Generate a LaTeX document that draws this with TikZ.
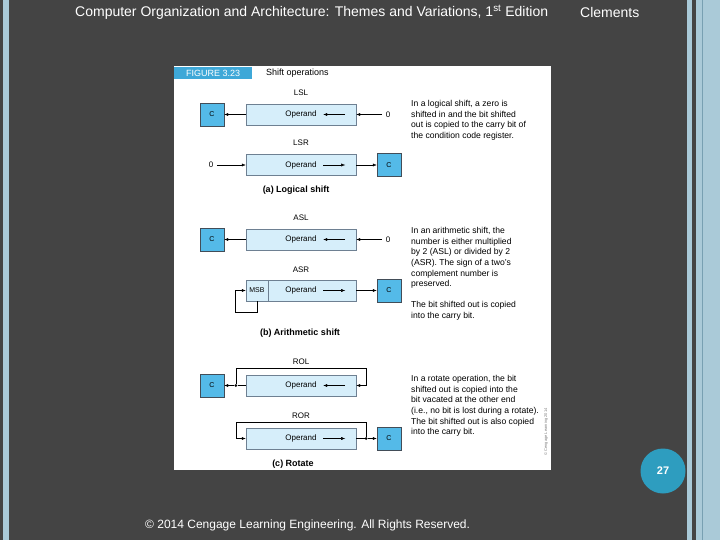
\documentclass[tikz,border=0pt]{standalone}
\usepackage{fontspec}
\setmainfont{Liberation Sans}
\usetikzlibrary{arrows.meta,positioning,calc}
\definecolor{slidegray}{RGB}{68,68,68}
\definecolor{stripblue}{RGB}{170,202,216}
\definecolor{stripdark}{RGB}{120,160,178}
\definecolor{opfill}{RGB}{214,238,250}
\definecolor{opdraw}{RGB}{110,128,146}
\definecolor{cfill}{RGB}{84,186,232}
\definecolor{headblue}{RGB}{62,168,216}
\definecolor{pageblue}{RGB}{46,157,191}

\tikzset{
  operand/.style={draw=opdraw, fill=opfill, minimum width=110pt, minimum height=21pt, inner sep=0pt, font=\fontsize{8}{9}\selectfont},
  carry/.style={draw=opdraw!60!black, fill=cfill, minimum width=24pt, minimum height=23pt, inner sep=0pt, font=\fontsize{7}{8}\selectfont},
  oplabel/.style={font=\fontsize{8}{9}\selectfont},
  caption/.style={font=\fontsize{9}{10}\selectfont\bfseries},
  note/.style={align=left, anchor=north west, inner sep=0pt, font=\fontsize{8.6}{10.7}\selectfont},
  arr/.style={-{Latex[length=4pt,width=3pt]}, thin},
  junction/.style={circle, fill=black, inner sep=0pt, minimum size=3pt}
}

\begin{document}
\begin{tikzpicture}[x=1pt, y=-1pt]
    \useasboundingbox (0,0) rectangle (720,540);

    % Slide background
    \fill[slidegray] (0,0) rectangle (720,540);
    \fill[stripblue] (3,0) rectangle (9,540);
    \fill[stripblue] (687,0) rectangle (692,540);
    \fill[stripblue] (696,0) rectangle (720,540);
    \draw[stripdark, thin] (702,0) -- (702,540);

    % Slide header and footer
    \node[text=white, anchor=west, inner sep=0pt, font=\fontsize{14}{15}\selectfont] (title) at (75,12)
        {Computer Organization and Architecture: Themes and Variations, 1\textsuperscript{st} Edition};
    \node[text=white, anchor=west, inner sep=0pt, font=\fontsize{14}{15}\selectfont] (author) at (580,12)
        {Clements};
    \node[text=white, anchor=west, inner sep=0pt, font=\fontsize{12}{14}\selectfont] (footer) at (145,525)
        {\textcopyright{} 2014 Cengage Learning Engineering. All Rights Reserved.};
    \node[circle, fill=pageblue, minimum size=45pt, text=white, font=\fontsize{11}{12}\selectfont\bfseries] (page) at (663,471) {27};

    % Figure panel
    \fill[white] (174,66) rectangle (551,470);
    \node[fill=headblue, text=white, anchor=north west, minimum width=78pt, minimum height=12pt, inner sep=0pt,
          font=\fontsize{9}{10}\selectfont] (fighead) at (174,67) {FIGURE 3.23};
    \node[anchor=west, inner sep=0pt, font=\fontsize{9}{10}\selectfont] (figtitle) at (266,73) {Shift operations};

    % (a) Logical shift
    \node[oplabel] (lsllab) at (301,93) {LSL};
    \node[operand] (lsl) at (301,114.5) {Operand};
    \node[carry] (lslc) at (212,114.5) {C};
    \node[oplabel] (lslz) at (388,114.5) {0};
    \draw[arr] (lslz) -- (lsl.east);
    \draw[arr] (lsl.west) -- (lslc.east);
    \draw[arr] ([xshift=-11pt]lsl.east) -- ([xshift=-33pt]lsl.east);

    \node[oplabel] (lsrlab) at (301,143) {LSR};
    \node[operand] (lsr) at (301,165) {Operand};
    \node[carry] (lsrc) at (389,165) {C};
    \node[oplabel] (lsrz) at (211,165) {0};
    \draw[arr] (lsrz) -- (lsr.west);
    \draw[arr] (lsr.east) -- (lsrc.west);
    \draw[arr] ([xshift=-33pt]lsr.east) -- ([xshift=-11pt]lsr.east);

    \node[caption] (capa) at (296,190) {(a) Logical shift};
    \node[note] (notea) at (411,100) {In a logical shift, a zero is\\shifted in and the bit shifted\\out is copied to the carry bit of\\the condition code register.};

    % (b) Arithmetic shift
    \node[oplabel] (asllab) at (301,218) {ASL};
    \node[operand] (asl) at (301,239.5) {Operand};
    \node[carry] (aslc) at (212,239.5) {C};
    \node[oplabel] (aslz) at (388,239.5) {0};
    \draw[arr] (aslz) -- (asl.east);
    \draw[arr] (asl.west) -- (aslc.east);
    \draw[arr] ([xshift=-11pt]asl.east) -- ([xshift=-33pt]asl.east);

    \node[oplabel] (asrlab) at (301,270) {ASR};
    \node[operand] (asr) at (301,290.5) {Operand};
    \node[operand, minimum width=22pt, anchor=west, font=\fontsize{7}{8}\selectfont] (msb) at (asr.west) {MSB};
    \node[carry] (asrc) at (389,290.5) {C};
    \coordinate (msbloop) at ([xshift=-11pt]msb.west);
    \draw[arr] (msb.south) -- ++(0,11) -| (msbloop) -- (msb.west);
    \draw[arr] (asr.east) -- (asrc.west);
    \draw[arr] ([xshift=-33pt]asr.east) -- ([xshift=-11pt]asr.east);

    \node[caption] (capb) at (300,333) {(b) Arithmetic shift};
    \node[note] (noteb) at (411,227) {In an arithmetic shift, the\\number is either multiplied\\by 2 (ASL) or divided by 2\\(ASR). The sign of a two's\\complement number is\\preserved.\\[10pt]The bit shifted out is copied\\into the carry bit.};

    % (c) Rotate
    \node[oplabel] (rollab) at (301,362) {ROL};
    \node[operand] (rol) at (301,385.5) {Operand};
    \node[carry] (rolc) at (212,385.5) {C};
    \node[junction] (rolj) at ([xshift=-10pt]rol.west) {};
    \coordinate (rolk) at ([xshift=10pt]rol.east);
    \draw (rol.west) -- (rolj);
    \draw[arr] (rolj) -- (rolc.east);
    \draw[arr] (rolj) -- ++(0,-17.5) -| (rolk) -- (rol.east);
    \draw[arr] ([xshift=-11pt]rol.east) -- ([xshift=-33pt]rol.east);

    \node[oplabel] (rorlab) at (301,416) {ROR};
    \node[operand] (ror) at (301,438.5) {Operand};
    \node[carry] (rorc) at (389,438.5) {C};
    \node[junction] (rorj) at ([xshift=10pt]ror.east) {};
    \coordinate (rork) at ([xshift=-10pt]ror.west);
    \draw (ror.east) -- (rorj);
    \draw[arr] (rorj) -- (rorc.west);
    \draw[arr] (rorj) -- ++(0,-16.5) -| (rork) -- (ror.west);
    \draw[arr] ([xshift=-33pt]ror.east) -- ([xshift=-11pt]ror.east);

    \node[caption] (capc) at (293,464) {(c) Rotate};
    \node[note] (notec) at (411,375) {In a rotate operation, the bit\\shifted out is copied into the\\bit vacated at the other end\\(i.e., no bit is lost during a rotate).\\The bit shifted out is also copied\\into the carry bit.};

    % Credit line
    \node[rotate=90, text=gray, font=\fontsize{4}{5}\selectfont] (credit) at (546,432) {\textcopyright{} Cengage Learning 2014};
\end{tikzpicture}
\end{document}
